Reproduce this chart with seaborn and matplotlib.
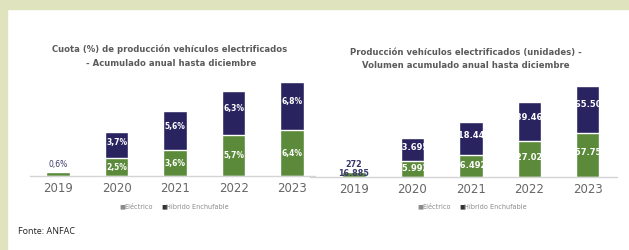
import numpy as np
import pandas as pd
import matplotlib
matplotlib.use("Agg")
import matplotlib.pyplot as plt
from matplotlib.patches import Rectangle
import seaborn as sns

years = ["2019", "2020", "2021", "2022", "2023"]
elec_pct = [0.6, 2.5, 3.6, 5.7, 6.4]
phev_pct = [0.0, 3.7, 5.6, 6.3, 6.8]
elec_units = [16885, 55992, 76492, 127025, 157751]
phev_units = [272, 83695, 118444, 139466, 165504]

elec_pct_labels = ["0,6%", "2,5%", "3,6%", "5,7%", "6,4%"]
phev_pct_labels = ["", "3,7%", "5,6%", "6,3%", "6,8%"]
elec_unit_labels = ["16.885", "55.992", "76.492", "127.025", "157.751"]
phev_unit_labels = ["272", "83.695", "118.444", "139.466", "165.504"]

GREEN = "#5b8a3a"
NAVY = "#29235f"
GREY = "#5a5a5a"

sns.set_style("white")
plt.rcParams['font.family'] = ['DejaVu Sans']

W, H = 629, 250
fig = plt.figure(figsize=(W / 100, H / 100), dpi=100)
fig.patch.set_facecolor("white")

# frame bands of the page
fig.patches.append(Rectangle((0, 1 - 9 / H), 1, 9 / H, transform=fig.transFigure,
                             color="#dfe4be", zorder=0))
fig.patches.append(Rectangle((0, 0), 7 / W, 1, transform=fig.transFigure,
                             color="#dfe4be", zorder=0))


def px_axes(x0, x1, ybase, ytop):
    return fig.add_axes([x0 / W, (H - ybase) / H, (x1 - x0) / W, (ybase - ytop) / H])


def stacked(ax, elec, phev):
    df = pd.DataFrame({"year": years, "elec": elec,
                       "total": np.array(elec) + np.array(phev)})
    sns.barplot(data=df, x="year", y="total", color=NAVY, width=0.4,
                saturation=1, ax=ax)
    sns.barplot(data=df, x="year", y="elec", color=GREEN, width=0.4,
                saturation=1, ax=ax)
    ax.set_xlabel("")
    ax.set_ylabel("")
    ax.set_yticks([])
    for s in ["top", "left", "right"]:
        ax.spines[s].set_visible(False)
    ax.spines["bottom"].set_color("#d4d4d4")
    ax.spines["bottom"].set_linewidth(1.0)
    ax.tick_params(axis="x", length=0, pad=4, labelsize=8.5, labelcolor="#666666")
    ax.patch.set_alpha(0)


# left chart: share %
ax1 = px_axes(30, 315, 176, 75)
stacked(ax1, elec_pct, phev_pct)
ax1.set_xlim(-0.48, 4.39)
ax1.set_ylim(0, 14.2)
for i in range(len(years)):
    e, p = elec_pct[i], phev_pct[i]
    if i == 0:
        ax1.text(i, e + 0.4, elec_pct_labels[i], ha="center", va="bottom",
                 fontsize=5.5, color="#3a3a6a")
        continue
    ax1.text(i, e / 2, elec_pct_labels[i], ha="center", va="center",
             fontsize=5.5, color="white", fontweight="bold")
    ax1.text(i, e + p * 0.6, phev_pct_labels[i], ha="center", va="center",
             fontsize=5.5, color="white", fontweight="bold")

# right chart: units
ax2 = px_axes(310, 617, 177, 80)
stacked(ax2, elec_units, phev_units)
ax2.set_xlim(-0.75, 4.5)
ax2.set_ylim(0, 344600)
for i in range(len(years)):
    e, p = elec_units[i], phev_units[i]
    if i == 0:
        ax2.text(i, e + p - 3500, elec_unit_labels[i], ha="center", va="center",
                 fontsize=5.8, color="#3a3a6a", fontweight="bold")
        ax2.text(i, e + p + 28000, phev_unit_labels[i], ha="center", va="center",
                 fontsize=5.8, color="#3a3a6a", fontweight="bold")
        continue
    ax2.text(i, e * 0.55, elec_unit_labels[i], ha="center", va="center",
             fontsize=6, color="white", fontweight="bold", clip_on=True)
    ax2.text(i, e + p * 0.6, phev_unit_labels[i], ha="center", va="center",
             fontsize=6, color="white", fontweight="bold", clip_on=True)

# titles
tkw = dict(ha="center", va="center", fontsize=6.1, color=GREY, fontweight="bold")
fig.text(170 / W, 1 - 49 / H, "Cuota (%) de producción vehículos electrificados", **tkw)
fig.text(171 / W, 1 - 63 / H, "- Acumulado anual hasta diciembre", **tkw)
fig.text(466 / W, 1 - 53 / H, "Producción vehículos electrificados (unidades) -", **tkw)
fig.text(466 / W, 1 - 66 / H, "Volumen acumulado anual hasta diciembre", **tkw)

# legends
for cx in (172, 470):
    x0 = cx - 53
    fig.text(x0 / W, 1 - 207 / H, "■", ha="left", va="center",
             fontsize=4.5, color="#8a8a8a")
    fig.text((x0 + 5) / W, 1 - 207 / H, "Eléctrico", ha="left", va="center",
             fontsize=4.7, color="#8a8a8a")
    fig.text((x0 + 42) / W, 1 - 207 / H, "■", ha="left", va="center",
             fontsize=4.5, color="#333333")
    fig.text((x0 + 47) / W, 1 - 207 / H, "Híbrido Enchufable", ha="left",
             va="center", fontsize=4.7, color="#8a8a8a")

fig.text(18 / W, 1 - 231 / H, "Fonte: ANFAC", ha="left", va="center",
         fontsize=6.5, color="#222222", family=["Open Sans", "DejaVu Sans"])

fig.savefig("out.png", dpi=100)
